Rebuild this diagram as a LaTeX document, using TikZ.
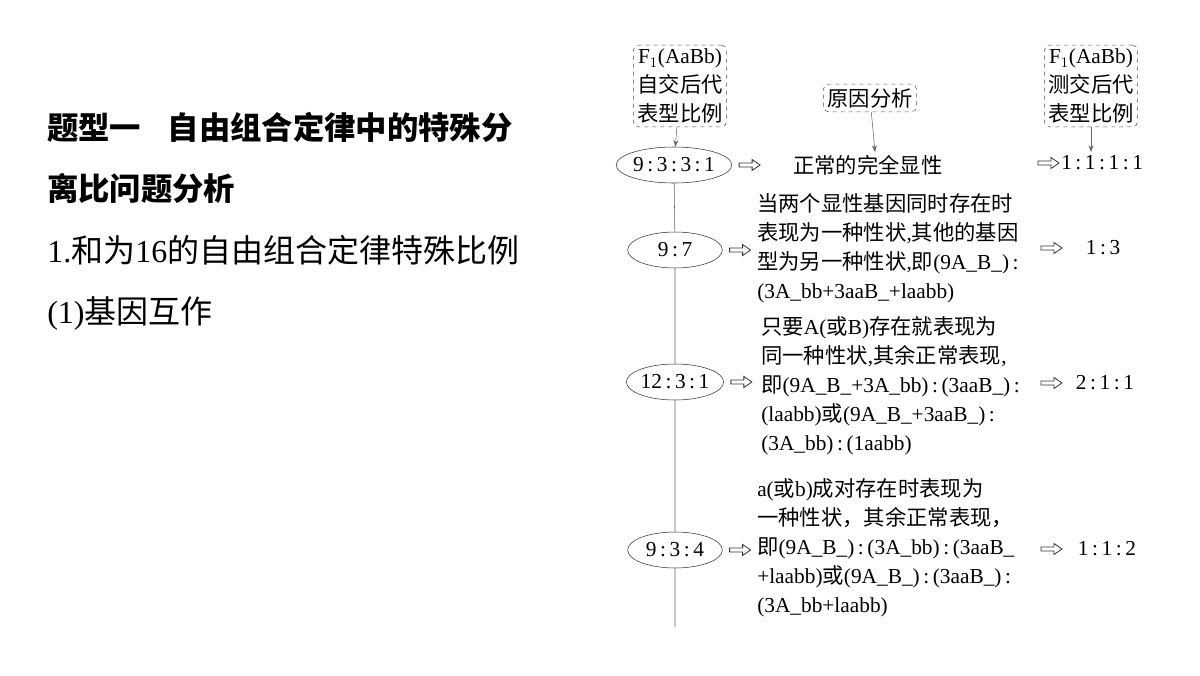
\documentclass[tikz,border=0pt]{standalone}
\usepackage{fontspec}
\setmainfont{Liberation Serif}
\newfontfamily\cjk{Noto Sans CJK SC}
\usetikzlibrary{arrows.meta,shapes.geometric}
% CJK runs switch font by themselves
\XeTeXinterchartokenstate=1
\newXeTeXintercharclass\cjkclass
\newcount\cc
\cc="4E00 \loop \XeTeXcharclass\cc=\cjkclass \advance\cc by 1 \ifnum\cc<"A000 \repeat
\cc="3000 \loop \XeTeXcharclass\cc=\cjkclass \advance\cc by 1 \ifnum\cc<"3040 \repeat
\cc="FF00 \loop \XeTeXcharclass\cc=\cjkclass \advance\cc by 1 \ifnum\cc<"FFF0 \repeat
\XeTeXinterchartoks 0 \cjkclass = {\cjk}
\XeTeXinterchartoks 4095 \cjkclass = {\cjk}
\XeTeXinterchartoks \cjkclass 0 = {\rmfamily}
\newcommand{\cl}{\,:\,}
\newcommand{\hollowarrow}[1]{\draw[black!80,line width=0.6pt] #1 ++(0,-2) -- ++(13,0) -- ++(0,-3.5) -- ++(8,5.5) -- ++(-8,5.5) -- ++(0,-3.5) -- ++(-13,0) -- cycle;}
\tikzset{
  ratio/.style={draw=black!80,ellipse,minimum width=71pt,minimum height=27pt,inner sep=0pt,font=\fontsize{16}{18}\selectfont},
  tag/.style={draw=black!70,dashed,rounded corners=4pt,align=center,inner sep=3pt,font=\fontsize{16}{21.5}\selectfont},
  desc/.style={anchor=west,align=left,inner sep=0pt,font=\fontsize{16}{21.7}\selectfont},
  result/.style={font=\fontsize{16}{18}\selectfont,inner sep=0pt},
  down/.style={draw=black!60,-{Stealth[length=5pt]}}
}
\begin{document}
\begin{tikzpicture}[x=0.75pt,y=0.75pt,yscale=-1]
\useasboundingbox (0,0) rectangle (1200,675);

% left column
\node[anchor=west,inner sep=0pt,font=\fontsize{23.5}{24}\selectfont\bfseries] (title1) at (47,127) {题型一\hspace{20pt}自由组合定律中的特殊分};
\node[anchor=west,inner sep=0pt,font=\fontsize{23.5}{24}\selectfont\bfseries] (title2) at (47,188) {离比问题分析};
\node[anchor=west,inner sep=0pt,font=\fontsize{24}{26}\selectfont] (sub1) at (47,250) {1.和为16的自由组合定律特殊比例};
\node[anchor=west,inner sep=0pt,font=\fontsize{24}{26}\selectfont] (sub2) at (47,313) {(1)基因互作};

% ratio chain
\coordinate (bottom) at (675,627);
\node[ratio] (r1) at (674,165) {9\cl 3\cl 3\cl 1};
\node[ratio] (r2) at (675,250) {9\cl 7};
\node[ratio] (r3) at (675,382) {12\cl 3\cl 1};
\node[ratio] (r4) at (675,550) {9\cl 3\cl 4};
\draw[black!60] (r1) -- (r2) (r2) -- (r3) (r3) -- (r4) (r4) -- (bottom);

% dashed labels
\node[tag] (selfx) at (680,86) {F$_1$(AaBb)\\自交后代\\表型比例};
\node[tag] (cause) at (870,98) {原因分析};
\node[tag] (testx) at (1091,86) {F$_1$(AaBb)\\测交后代\\表型比例};

% reasons
\node[result,anchor=west] (d1) at (793,165) {正常的完全显性};
\node[desc] (d2) at (757,248) {当两个显性基因同时存在时\\表现为一种性状,其他的基因\\型为另一种性状,即(9A\_B\_)\cl\\(3A\_bb+3aaB\_+laabb)};
\node[desc] (d3) at (761,386) {只要A(或B)存在就表现为\\同一种性状,其余正常表现,\\即(9A\_B\_+3A\_bb)\cl(3aaB\_)\cl\\(laabb)或(9A\_B\_+3aaB\_)\cl\\(3A\_bb)\cl(1aabb)};
\node[desc] (d4) at (757,548) {a(或b)成对存在时表现为\\一种性状，其余正常表现，\\即(9A\_B\_)\cl(3A\_bb)\cl(3aaB\_\\+laabb)或(9A\_B\_)\cl(3aaB\_)\cl\\(3A\_bb+laabb)};

% test cross results
\node[result,anchor=west] (t1) at (1061,163) {1\cl 1\cl 1\cl 1};
\node[result] (t2) at (1103,248) {1\cl 3};
\node[result] (t3) at (1105,383) {2\cl 1\cl 1};
\node[result] (t4) at (1107,549) {1\cl 1\cl 2};

\coordinate (c1) at (875,152);
\draw[down] (selfx) -- (r1);
\draw[down] (cause) -- (c1);
\draw[down] (testx) -- (1091,152);

\foreach \e in {r1,r2,r3,r4}
  \hollowarrow{(\e.east) ++(7,0)};
\hollowarrow{(1038,163)}
\hollowarrow{(1041,248)}
\hollowarrow{(1041,383)}
\hollowarrow{(1041,549)}
\end{tikzpicture}
\end{document}
